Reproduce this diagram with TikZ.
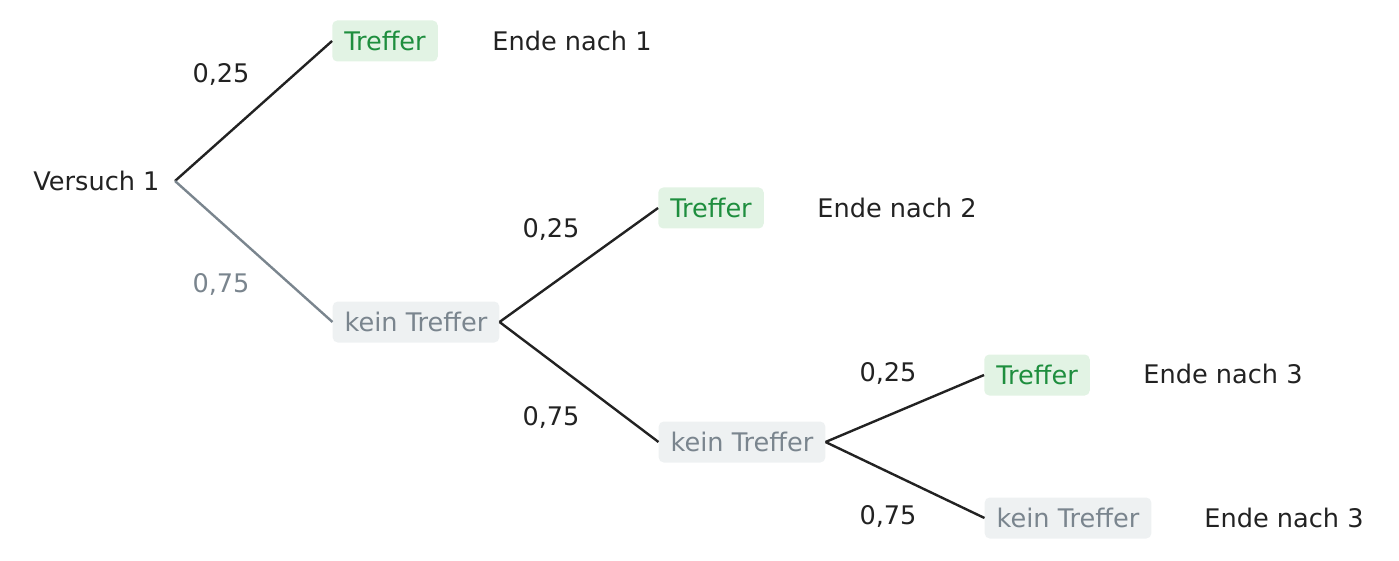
\documentclass[tikz,border=0pt]{standalone}
\usepackage{fontspec}
\setmainfont{DejaVu Sans}
\definecolor{hitgreen}{HTML}{1E8E3E}
\definecolor{hitfill}{HTML}{E2F3E4}
\definecolor{missgray}{HTML}{7A858E}
\definecolor{missfill}{HTML}{EEF1F2}
\definecolor{inkdark}{HTML}{222222}
\begin{document}
\begin{tikzpicture}[x=1pt,y=-1pt,
  every node/.style={font=\fontsize{25.6}{30}\selectfont, text=inkdark},
  hit/.style={fill=hitfill, text=hitgreen, rounded corners=5pt, inner xsep=12pt, minimum height=41pt},
  miss/.style={fill=missfill, text=missgray, rounded corners=5pt, inner xsep=12pt, minimum height=41pt},
  branch/.style={draw=inkdark, line width=2.4pt},
  prob/.style={inner sep=0pt}]
\useasboundingbox (0,0) rectangle (1399,561);
\node [anchor=east] (root) at (163,181) {Versuch 1};
\coordinate (r0) at (175,181);
\node [hit] (t1) at (385,41) {Treffer};
\node [miss] (k1) at (416,322) {kein Treffer};
\node [hit] (t2) at (711,208) {Treffer};
\node [miss] (k2) at (742,442) {kein Treffer};
\node [hit] (t3) at (1037,375) {Treffer};
\node [miss] (k3) at (1068,518) {kein Treffer};
\node (e1) at (572,41) {Ende nach 1};
\node (e2) at (897,208) {Ende nach 2};
\node (e3) at (1223,374) {Ende nach 3};
\node (e4) at (1284,518) {Ende nach 3};
\draw [branch] (r0) -- (t1.west);
\draw [branch, draw=missgray] (r0) -- (k1.west);
\draw [branch] (k1.east) -- (t2.west);
\draw [branch] (k1.east) -- (k2.west);
\draw [branch] (k2.east) -- (t3.west);
\draw [branch] (k2.east) -- (k3.west);
\node [prob] (p1) at (221,74) {0,25};
\node [prob, text=missgray] (q1) at (221,284) {0,75};
\node [prob] (p2) at (551,229) {0,25};
\node [prob] (q2) at (551,417) {0,75};
\node [prob] (p3) at (888,373) {0,25};
\node [prob] (q3) at (888,516) {0,75};
\end{tikzpicture}
\end{document}
